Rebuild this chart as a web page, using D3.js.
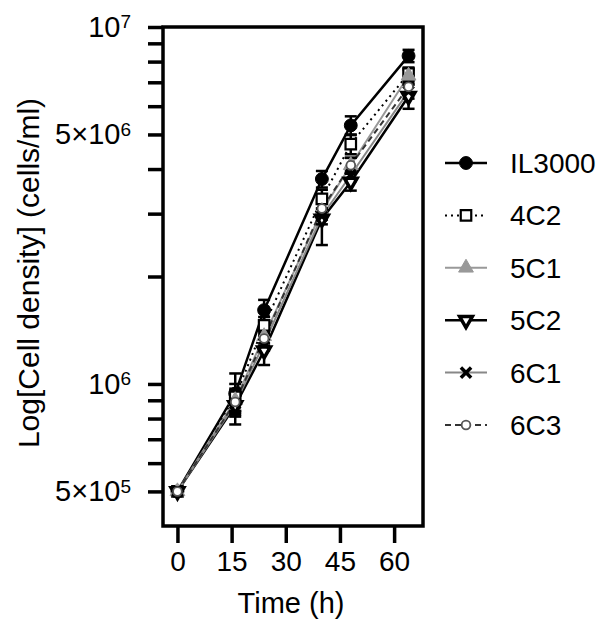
<!DOCTYPE html>
<html>

<head>
  <meta charset="UTF-8">
  <style>
    body { margin: 0; background: #fff; }
    svg { font-family: "Liberation Sans", Arial, sans-serif; }
  </style>
</head>

<body>
  <svg></svg>
  <script src="https://d3js.org/d3.v7.min.js"></script>

  <script>

    let width = 608, height = 627;

    // data
    const times = [0, 16, 24, 40, 48, 64];
    const seriesNames = ["IL3000", "4C2", "5C1", "5C2", "6C1", "6C3"];

    const il3000 = [5.0e5, 9.4e5, 1.61e6, 3.75e6, 5.3e6, 8.3e6];
    const c4c2 = [5.0e5, 9.2e5, 1.46e6, 3.3e6, 4.7e6, 7.4e6];
    const c5c1 = [5.0e5, 9.0e5, 1.36e6, 3.05e6, 4.1e6, 7.3e6];
    const c5c2 = [5.0e5, 8.7e5, 1.24e6, 2.9e6, 3.68e6, 6.4e6];
    const c6c1 = [5.0e5, 8.8e5, 1.3e6, 2.95e6, 3.85e6, 6.6e6];
    const c6c3 = [5.0e5, 8.9e5, 1.34e6, 3.1e6, 4.1e6, 6.8e6];

    // standard deviations
    const il3000Err = [1e4, 1.3e5, 1.1e5, 2e5, 3.2e5, 3.3e5];
    const c4c2Err = [1e4, 8e4, 8e4, 2e5, 3e5, 3e5];
    const c5c1Err = [1e4, 6e4, 6e4, 1.5e5, 2e5, 3e5];
    const c5c2Err = [1e4, 1e5, 1.1e5, 4.5e5, 2e5, 5e5];
    const c6c1Err = [1e4, 6e4, 6e4, 1.5e5, 1.5e5, 3e5];
    const c6c3Err = [1e4, 6e4, 6e4, 1.5e5, 2e5, 3e5];

    const xTicks = [0, 15, 30, 45, 60];
    const yMajor = [5e5, 1e6, 5e6, 1e7];
    const yLabels = [["5\u00d710", "5"], ["10", "6"], ["5\u00d710", "6"], ["10", "7"]];
    const yMinor = [6e5, 7e5, 8e5, 9e5, 2e6, 3e6, 4e6, 6e6, 7e6, 8e6, 9e6];

    const values = [il3000, c4c2, c5c1, c5c2, c6c1, c6c3];
    const errors = [il3000Err, c4c2Err, c5c1Err, c5c2Err, c6c1Err, c6c3Err];

    const styles = [
      { stroke: "#000", width: 2.5, dash: null, symbol: d3.symbolCircle, size: 130, fill: "#000", mstroke: "#000", msw: 1, rot: 0 },
      { stroke: "#000", width: 2, dash: "2,4", symbol: d3.symbolSquare, size: 110, fill: "#fff", mstroke: "#000", msw: 2.2, rot: 0 },
      { stroke: "#999", width: 2, dash: null, symbol: d3.symbolTriangle, size: 95, fill: "#999", mstroke: "#999", msw: 1, rot: 0 },
      { stroke: "#000", width: 2.5, dash: null, symbol: d3.symbolTriangle, size: 70, fill: "#fff", mstroke: "#000", msw: 3.5, rot: 180 },
      { stroke: "#888", width: 2, dash: null, symbol: d3.symbolX, size: 70, fill: "none", mstroke: "#000", msw: 3.5, rot: 0 },
      { stroke: "#333", width: 2, dash: "6,4", symbol: d3.symbolCircle, size: 60, fill: "#fff", mstroke: "#555", msw: 1.8, rot: 0 }
    ];

    let svg = d3.select("svg")
      .attr("width", width)
      .attr("height", height)
      .attr("viewBox", "0 0 " + width + " " + height);

    let x = d3.scaleLinear().domain([-4, 68]).range([163, 423]);
    let y = d3.scaleLog().domain([4e5, 1e7]).range([526, 27]);

    // frame
    svg.append("rect")
      .attr("x", x(-4)).attr("y", y(1e7))
      .attr("width", x(68) - x(-4)).attr("height", y(4e5) - y(1e7))
      .attr("fill", "none").attr("stroke", "#000").attr("stroke-width", 3.5);

    // x axis
    let xAxis = svg.append("g")
      .attr("transform", "translate(0," + y(4e5) + ")")
      .call(d3.axisBottom(x).tickValues(xTicks).tickSize(17).tickPadding(8));
    xAxis.select(".domain").remove();
    xAxis.selectAll(".tick line").attr("stroke-width", 3.5);
    xAxis.selectAll(".tick text").attr("font-size", 28).attr("font-family", "Liberation Sans, Arial, sans-serif").attr("fill", "#000");

    // y axis, minor ticks
    let yMinorAxis = svg.append("g")
      .attr("transform", "translate(" + x(-4) + ",0)")
      .call(d3.axisLeft(y).tickValues(yMinor).tickSize(15).tickFormat(""));
    yMinorAxis.select(".domain").remove();
    yMinorAxis.selectAll(".tick line").attr("stroke-width", 3.5);

    // y axis, labelled ticks
    let yAxis = svg.append("g")
      .attr("transform", "translate(" + x(-4) + ",0)")
      .call(d3.axisLeft(y).tickValues(yMajor).tickSize(15).tickPadding(17).tickFormat(""));
    yAxis.select(".domain").remove();
    yAxis.selectAll(".tick line").attr("stroke-width", 3.5);
    yAxis.selectAll(".tick text")
      .attr("font-size", 29)
      .attr("font-family", "Liberation Sans, Arial, sans-serif")
      .attr("fill", "#000")
      .each(function (d, i) {
        let t = d3.select(this);
        t.append("tspan").text(yLabels[i][0]);
        t.append("tspan").attr("font-size", 19).attr("dy", "-0.45em").text(yLabels[i][1]);
      });

    // axis titles
    svg.append("text")
      .attr("x", (x(-4) + x(68)) / 2 - 2).attr("y", 613)
      .attr("text-anchor", "middle").attr("font-size", 29)
      .text("Time (h)");

    svg.append("text")
      .attr("transform", "translate(39," + 273 + ") rotate(-90)")
      .attr("text-anchor", "middle").attr("font-size", 30)
      .text("Log[Cell density] (cells/ml)");

    // series
    let line = d3.line().x(d => x(d[0])).y(d => y(d[1]));
    let plot = svg.append("g");

    values.forEach((vals, s) => {
      let st = styles[s];
      plot.append("path")
        .datum(times.map((t, i) => [t, vals[i]]))
        .attr("d", line)
        .attr("fill", "none")
        .attr("stroke", st.stroke)
        .attr("stroke-width", st.width)
        .attr("stroke-dasharray", st.dash);
    });

    values.forEach((vals, s) => {
      let g = plot.append("g");
      times.forEach((t, i) => {
        let lo = y(vals[i] - errors[s][i]), hi = y(vals[i] + errors[s][i]);
        g.append("line").attr("x1", x(t)).attr("x2", x(t)).attr("y1", lo).attr("y2", hi)
          .attr("stroke", "#000").attr("stroke-width", 2.5);
        [lo, hi].forEach(v => {
          g.append("line").attr("x1", x(t) - 6).attr("x2", x(t) + 6).attr("y1", v).attr("y2", v)
            .attr("stroke", "#000").attr("stroke-width", 2.5);
        });
      });
    });

    values.forEach((vals, s) => {
      let st = styles[s];
      plot.append("g")
        .selectAll("path")
        .data(times.map((t, i) => [t, vals[i]]))
        .enter()
        .append("path")
        .attr("d", d3.symbol().type(st.symbol).size(st.size))
        .attr("transform", d => "translate(" + x(d[0]) + "," + y(d[1]) + ") rotate(" + st.rot + ")")
        .attr("fill", st.fill)
        .attr("stroke", st.mstroke)
        .attr("stroke-width", st.msw);
    });

    // legend
    let legend = svg.append("g");
    seriesNames.forEach((name, i) => {
      let st = styles[i];
      let ly = 163 + i * 52.4;
      legend.append("line")
        .attr("x1", 445).attr("x2", 487).attr("y1", ly).attr("y2", ly)
        .attr("stroke", st.stroke).attr("stroke-width", st.width)
        .attr("stroke-dasharray", st.dash);
      legend.append("path")
        .attr("d", d3.symbol().type(st.symbol).size(st.size))
        .attr("transform", "translate(466," + ly + ") rotate(" + st.rot + ")")
        .attr("fill", st.fill)
        .attr("stroke", st.mstroke)
        .attr("stroke-width", st.msw);
      legend.append("text")
        .attr("x", 510).attr("y", ly).attr("dy", "0.36em")
        .attr("font-size", 28)
        .text(name);
    });

  </script>

</body>

</html>
